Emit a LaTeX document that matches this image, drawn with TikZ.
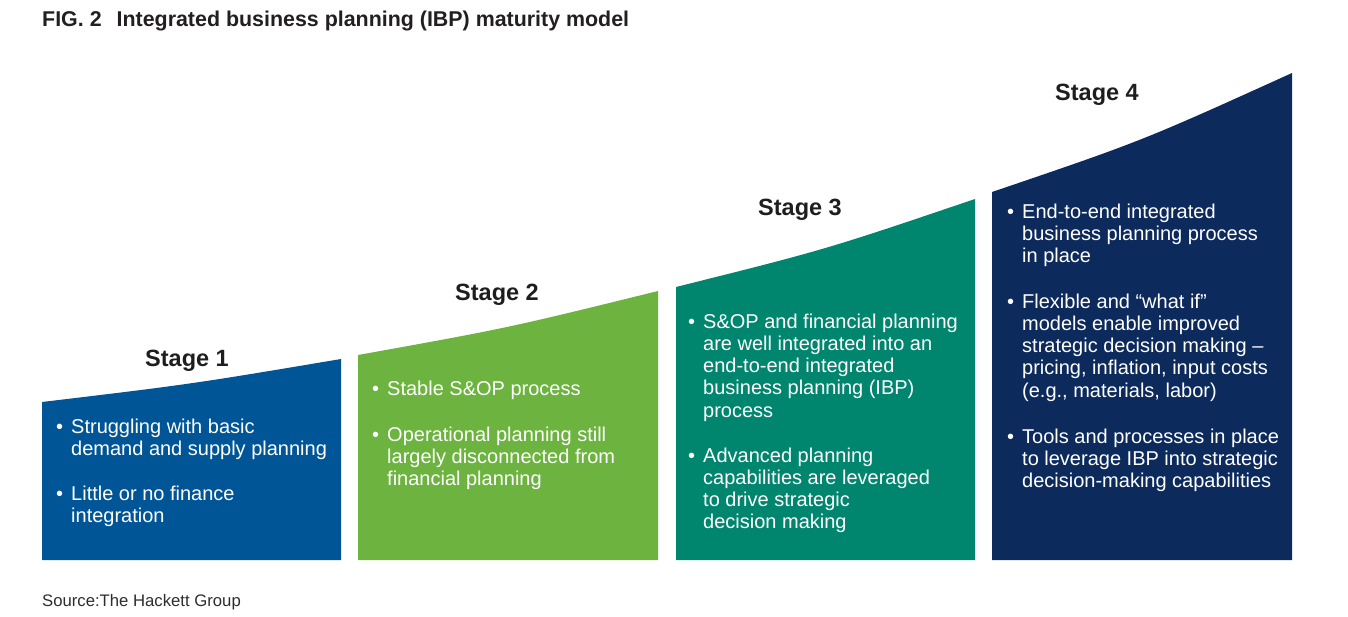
\documentclass[tikz,border=0pt]{standalone}
\usepackage{fontspec}
\setmainfont{Liberation Sans}
\definecolor{sonecol}{RGB}{0,85,150}
\definecolor{stwocol}{RGB}{108,179,63}
\definecolor{sthreecol}{RGB}{0,133,111}
\definecolor{sfourcol}{RGB}{12,42,92}
\definecolor{labelcol}{RGB}{30,30,30}
\definecolor{titlecol}{RGB}{35,31,32}
\definecolor{sourcecol}{RGB}{45,45,45}
\begin{document}
\begin{tikzpicture}[x=1pt,y=-1pt,
  bodytext/.style={text=white, font=\fontsize{20}{22.3}\selectfont, align=left, anchor=base west, inner sep=0pt},
  stagelabel/.style={text=labelcol, font=\bfseries\fontsize{23.5}{26}\selectfont, anchor=base, inner sep=0pt}]
\newcommand{\bul}{\llap{\textbullet\hspace{8pt}}}
\useasboundingbox (0,0) rectangle (1348,616);
% panels
\fill[sonecol] (42,560) -- (42,402) .. controls (191.5,384.1) .. (341,359) -- (341,560) -- cycle;
\fill[stwocol] (358,560) -- (358,355) .. controls (508,328) .. (658,291) -- (658,560) -- cycle;
\fill[sthreecol] (676,560) -- (676,287) .. controls (825.5,249.6) .. (975,199) -- (975,560) -- cycle;
\fill[sfourcol] (992,560) -- (992,192) .. controls (1142,141) .. (1292,73) -- (1292,560) -- cycle;
% title
\node[anchor=base west, inner sep=0pt, text=titlecol, font=\bfseries\fontsize{21.4}{24}\selectfont] (title) at (42,26.5) {FIG. 2\hspace{15pt}Integrated business planning (IBP) maturity model};
% stage labels
\node[stagelabel] (lone) at (187,366.7) {Stage 1};
\node[stagelabel] (ltwo) at (497,300) {Stage 2};
\node[stagelabel] (lthree) at (800,215) {Stage 3};
\node[stagelabel] (lfour) at (1097,100.7) {Stage 4};
% stage 1 (positions are the baselines of the last lines)
\node[bodytext] (oa) at (71,455.3) {\bul Struggling with basic\\demand and supply planning};
\node[bodytext] (ob) at (71,522.3) {\bul Little or no finance\\integration};
% stage 2
\node[bodytext] (ta) at (387,395) {\bul Stable S\&OP process};
\node[bodytext] (tb) at (387,485.6) {\bul Operational planning still\\largely disconnected from\\financial planning};
% stage 3
\node[bodytext] (ha) at (703,417.2) {\bul S\&OP and financial planning\\are well integrated into an\\end-to-end integrated\\business planning (IBP)\\process};
\node[bodytext] (hb) at (703,528.9) {\bul Advanced planning\\capabilities are leveraged\\to drive strategic\\decision making};
% stage 4
\node[bodytext] (fa) at (1022,262.6) {\bul End-to-end integrated\\business planning process\\in place};
\node[bodytext] (fb) at (1022,397.2) {\bul Flexible and “what if”\\models enable improved\\strategic decision making –\\pricing, inflation, input costs\\(e.g., materials, labor)};
\node[bodytext] (fc) at (1022,487.6) {\bul Tools and processes in place\\to leverage IBP into strategic\\decision-making capabilities};
% source
\node[anchor=base west, inner sep=0pt, text=sourcecol, font=\fontsize{16.7}{19}\selectfont] (source) at (42,606) {Source:The Hackett Group};
\end{tikzpicture}
\end{document}
